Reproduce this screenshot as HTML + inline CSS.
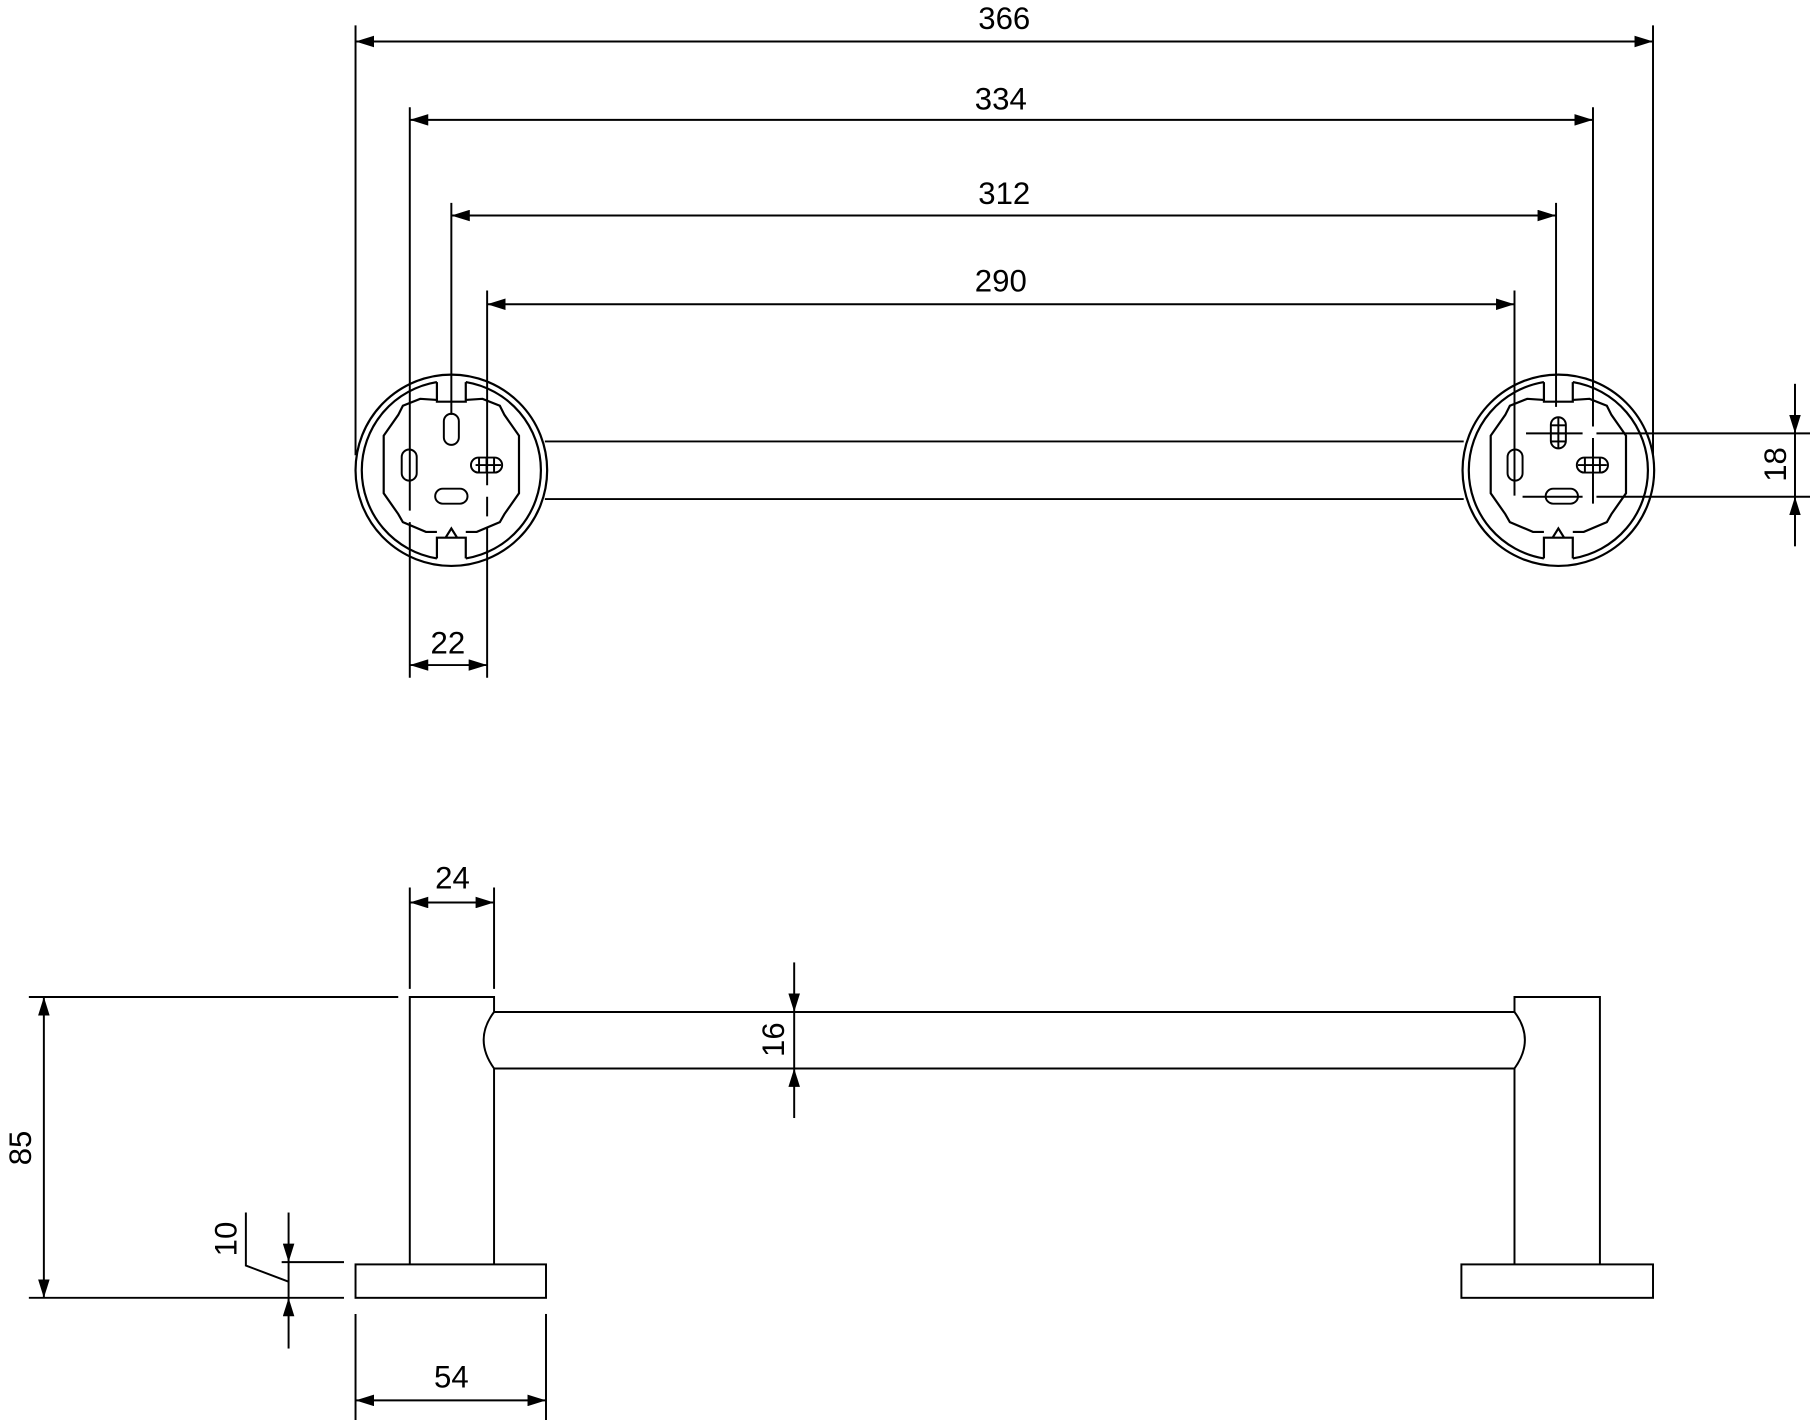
<!DOCTYPE html>
<html><head><meta charset="utf-8"><style>html,body{margin:0;padding:0;background:#fff}svg{display:block}</style></head>
<body>
<svg width="1810" height="1420" viewBox="0 0 1568 1232" preserveAspectRatio="none" xmlns="http://www.w3.org/2000/svg">
<defs>
<marker id="a" viewBox="0 0 16 10" refX="16" refY="5" markerWidth="16" markerHeight="10" markerUnits="userSpaceOnUse" orient="auto-start-reverse"><path d="M0,0 L16,5 L0,10 Z" fill="#000"/></marker>
<g id="ros" fill="none" stroke="#000" stroke-width="1.9">
<circle r="83"/>
<path d="M-12.5,-76.5 L-12.5,-59.5 L12.5,-59.5 L12.5,-76.5"/>
<path d="M-12.5,-61 L-27,-62 L-42,-56 L-46,-48 L-58.6,-30 L-58.6,20 L-46,38 L-42,45 L-22,53.5 L-12.5,53.5 M12.5,53.5 L22,53.5 L42,45 L46,38 L58.6,20 L58.6,-30 L46,-48 L42,-56 L27,-62 L12.5,-61"/>
<path d="M-12.5,76.5 L-12.5,58.5 L-5,58.5 L0,50.5 L5,58.5 L12.5,58.5 L12.5,76.5 M-5,58.5 L5,58.5"/>
<path d="M-12.5,-76.5 A77.5,77.5 0 0 0 -12.5,76.5 M12.5,-76.5 A77.5,77.5 0 0 1 12.5,76.5"/>
</g>
</defs>
<g fill="none" stroke="#000" stroke-width="1.7">
<use href="#ros" x="391" y="408"/>
<use href="#ros" x="1350" y="408"/>
<line x1="472" y1="383" x2="1268" y2="383"/><line x1="472" y1="433" x2="1268" y2="433"/>
<!-- left holes -->
<rect x="384.5" y="359" width="13" height="27" rx="6.5"/>
<rect x="348" y="390" width="13" height="27" rx="6.5"/>
<rect x="377" y="424" width="28" height="13" rx="6.5"/>
<rect x="408" y="397" width="27" height="13" rx="6.5"/>
<line x1="412" y1="403.5" x2="434" y2="403.5"/><line x1="421.5" y1="397" x2="421.5" y2="410"/><line x1="428" y1="397" x2="428" y2="410"/><line x1="415" y1="397" x2="415" y2="410"/>
<!-- right holes -->
<rect x="1343.5" y="362" width="13" height="27" rx="6.5"/>
<line x1="1343.5" y1="369" x2="1356.5" y2="369"/><line x1="1343.5" y1="376" x2="1356.5" y2="376"/><line x1="1343.5" y1="383" x2="1356.5" y2="383"/><line x1="1350" y1="362" x2="1350" y2="389"/>
<rect x="1306" y="390" width="13" height="27" rx="6.5"/>
<rect x="1339" y="424" width="28" height="13" rx="6.5"/>
<rect x="1366" y="397" width="27" height="13" rx="6.5"/>
<line x1="1367" y1="403.5" x2="1392" y2="403.5"/><line x1="1373" y1="397" x2="1373" y2="410"/><line x1="1380" y1="397" x2="1380" y2="410"/><line x1="1386" y1="397" x2="1386" y2="410"/>
<!-- center lines right -->
<path d="M1322,376 L1371,376 M1383,376 L1568,376"/>
<path d="M1319,431 L1371,431 M1383,431 L1568,431"/>
<path d="M1312,252 L1312,430"/>
<path d="M1380,93 L1380,370 M1380,380 L1380,437"/>
<line x1="1348" y1="353" x2="1348" y2="176"/>
<line x1="1432" y1="395" x2="1432" y2="22"/>
<!-- left ext lines -->
<line x1="308" y1="395" x2="308" y2="22"/>
<path d="M355,93 L355,443 M355,453 L355,588"/>
<line x1="391" y1="360" x2="391" y2="176"/>
<path d="M422,252 L422,421 M422,431 L422,448 M422,458 L422,588"/>
<!-- dims top -->
<line x1="308" y1="36" x2="1432" y2="36" marker-start="url(#a)" marker-end="url(#a)"/>
<line x1="355" y1="104" x2="1380" y2="104" marker-start="url(#a)" marker-end="url(#a)"/>
<line x1="391" y1="187" x2="1348" y2="187" marker-start="url(#a)" marker-end="url(#a)"/>
<line x1="422" y1="264" x2="1312" y2="264" marker-start="url(#a)" marker-end="url(#a)"/>
<line x1="355" y1="577" x2="422" y2="577" marker-start="url(#a)" marker-end="url(#a)"/>
<line x1="1555" y1="333" x2="1555" y2="376" marker-end="url(#a)"/>
<line x1="1555" y1="474" x2="1555" y2="431" marker-end="url(#a)"/>
<line x1="1555" y1="376" x2="1555" y2="431"/>
<!-- side view -->
<path d="M355,1097 L355,865 L428,865 L428,878 Q410,902 428,927 L428,1097"/>
<line x1="428" y1="878" x2="1312" y2="878"/><line x1="428" y1="927" x2="1312" y2="927"/>
<path d="M1386,1097 L1386,865 L1312,865 L1312,878 Q1330,902 1312,927 L1312,1097"/>
<rect x="308" y="1097" width="165" height="29"/>
<rect x="1266" y="1097" width="166" height="29"/>
<!-- side dims -->
<line x1="25" y1="865" x2="345" y2="865"/><line x1="25" y1="1126" x2="298" y2="1126"/>
<line x1="38" y1="865" x2="38" y2="1126" marker-start="url(#a)" marker-end="url(#a)"/>
<line x1="355" y1="770" x2="355" y2="858"/><line x1="428" y1="770" x2="428" y2="858"/>
<line x1="355" y1="783" x2="428" y2="783" marker-start="url(#a)" marker-end="url(#a)"/>
<line x1="308" y1="1140" x2="308" y2="1232"/><line x1="473" y1="1140" x2="473" y2="1232"/>
<line x1="308" y1="1215" x2="473" y2="1215" marker-start="url(#a)" marker-end="url(#a)"/>
<line x1="688" y1="835" x2="688" y2="878" marker-end="url(#a)"/>
<line x1="688" y1="970" x2="688" y2="927" marker-end="url(#a)"/>
<line x1="688" y1="878" x2="688" y2="927"/>
<line x1="244" y1="1095" x2="298" y2="1095"/>
<line x1="250" y1="1052" x2="250" y2="1095" marker-end="url(#a)"/>
<line x1="250" y1="1170" x2="250" y2="1126" marker-end="url(#a)"/>
<line x1="250" y1="1095" x2="250" y2="1126"/>
<path d="M213,1052 L213,1098 L250,1112"/>
</g>
<g font-family="Liberation Sans, sans-serif" font-size="27" fill="#000" text-anchor="middle">
<text x="870" y="25">366</text>
<text x="867" y="95">334</text>
<text x="870" y="177">312</text>
<text x="867" y="253">290</text>
<text x="388" y="567">22</text>
<text x="392" y="771">24</text>
<text x="391" y="1204">54</text>
<text transform="translate(1547,403) rotate(-90)">18</text>
<text transform="translate(679,902) rotate(-90)">16</text>
<text transform="translate(27,996) rotate(-90)">85</text>
<text transform="translate(205,1075) rotate(-90)">10</text>
</g>
</svg>
</body></html>
